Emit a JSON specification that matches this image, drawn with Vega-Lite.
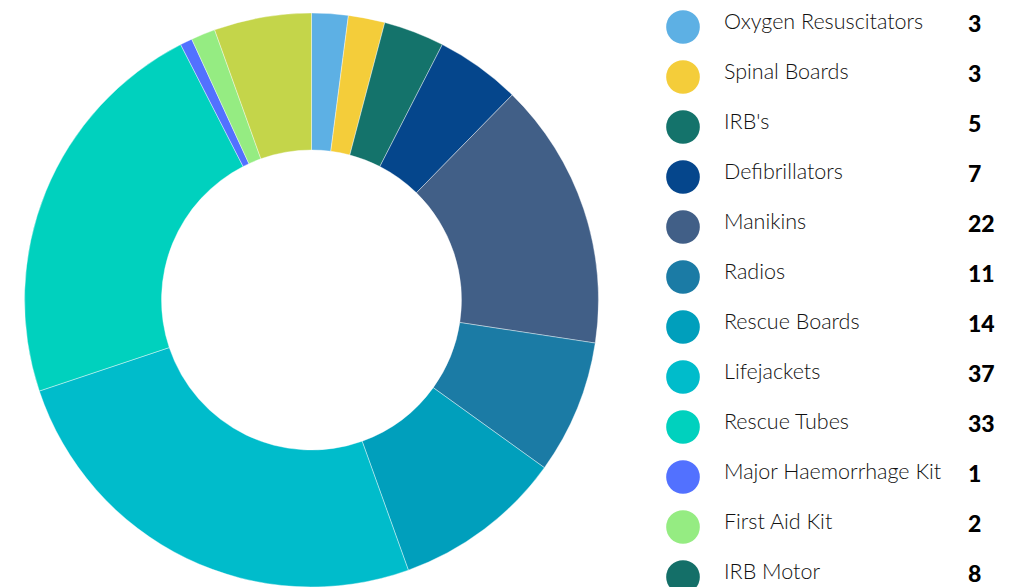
{
  "$schema": "https://vega.github.io/schema/vega-lite/v6.json",
  "padding": 0,
  "background": "white",
  "spacing": 0,
  "config": {"view": {"stroke": null}, "concat": {"spacing": 0}},
  "data": {"values": [
    {"item": "Oxygen Resuscitators", "count": 3},
    {"item": "Spinal Boards", "count": 3},
    {"item": "IRB's", "count": 5},
    {"item": "Defibrillators", "count": 7},
    {"item": "Manikins", "count": 22},
    {"item": "Radios", "count": 11},
    {"item": "Rescue Boards", "count": 14},
    {"item": "Lifejackets", "count": 37},
    {"item": "Rescue Tubes", "count": 33},
    {"item": "Major Haemorrhage Kit", "count": 1},
    {"item": "First Aid Kit", "count": 2},
    {"item": "IRB Motor", "count": 8}
  ]},
  "transform": [{"window": [{"op": "row_number", "as": "rank"}]}],
  "resolve": {"scale": {"color": "independent"}},
  "hconcat": [
    {
      "width": 623,
      "height": 600,
      "mark": {"type": "arc", "outerRadius": 287, "innerRadius": 150, "stroke": "white", "strokeWidth": 0.4},
      "encoding": {
        "theta": {"field": "count", "type": "quantitative", "stack": true},
        "order": {"field": "rank", "type": "quantitative", "sort": "ascending"},
        "color": {
          "field": "item", "type": "nominal", "legend": null,
          "scale": {
            "domain": ["Oxygen Resuscitators", "Spinal Boards", "IRB's", "Defibrillators", "Manikins", "Radios", "Rescue Boards", "Lifejackets", "Rescue Tubes", "Major Haemorrhage Kit", "First Aid Kit", "IRB Motor"],
            "range": ["#5DB0E4", "#F4CD3A", "#14736B", "#05468C", "#415F87", "#1B7BA5", "#009FBC", "#00BCCB", "#00D1BE", "#5271FF", "#95EC82", "#C4D54A"]
          }
        }
      }
    },
    {
      "width": 403,
      "height": 600,
      "encoding": {
        "y": {
          "field": "item", "type": "nominal", "axis": null,
          "sort": ["Oxygen Resuscitators", "Spinal Boards", "IRB's", "Defibrillators", "Manikins", "Radios", "Rescue Boards", "Lifejackets", "Rescue Tubes", "Major Haemorrhage Kit", "First Aid Kit", "IRB Motor"],
          "scale": {"type": "point", "range": [27, 577], "padding": 0}
        }
      },
      "layer": [
        {
          "mark": {"type": "point", "shape": "circle", "filled": true, "size": 1134, "opacity": 1},
          "encoding": {
            "x": {"datum": 683, "type": "quantitative", "scale": {"domain": [623, 1026], "range": [0, 403], "nice": false, "zero": false}, "axis": null},
            "color": {
              "field": "item", "type": "nominal", "legend": null,
              "scale": {
                "domain": ["Oxygen Resuscitators", "Spinal Boards", "IRB's", "Defibrillators", "Manikins", "Radios", "Rescue Boards", "Lifejackets", "Rescue Tubes", "Major Haemorrhage Kit", "First Aid Kit", "IRB Motor"],
                "range": ["#5DB0E4", "#F4CD3A", "#14736B", "#05468C", "#415F87", "#1B7BA5", "#009FBC", "#00BCCB", "#00D1BE", "#5271FF", "#95EC82", "#146F68"]
              }
            }
          }
        },
        {
          "mark": {"type": "text", "align": "left", "baseline": "alphabetic", "dy": 2, "font": "Lato", "fontSize": 21.5, "fontWeight": 300, "color": "#111111"},
          "encoding": {
            "x": {"datum": 724, "type": "quantitative"},
            "text": {"field": "item"}
          }
        },
        {
          "mark": {"type": "text", "align": "left", "baseline": "alphabetic", "dy": 5, "font": "Lato", "fontSize": 23, "fontWeight": 900, "color": "#000000"},
          "encoding": {
            "x": {"datum": 968, "type": "quantitative"},
            "text": {"field": "count", "type": "quantitative"}
          }
        }
      ]
    }
  ]
}
